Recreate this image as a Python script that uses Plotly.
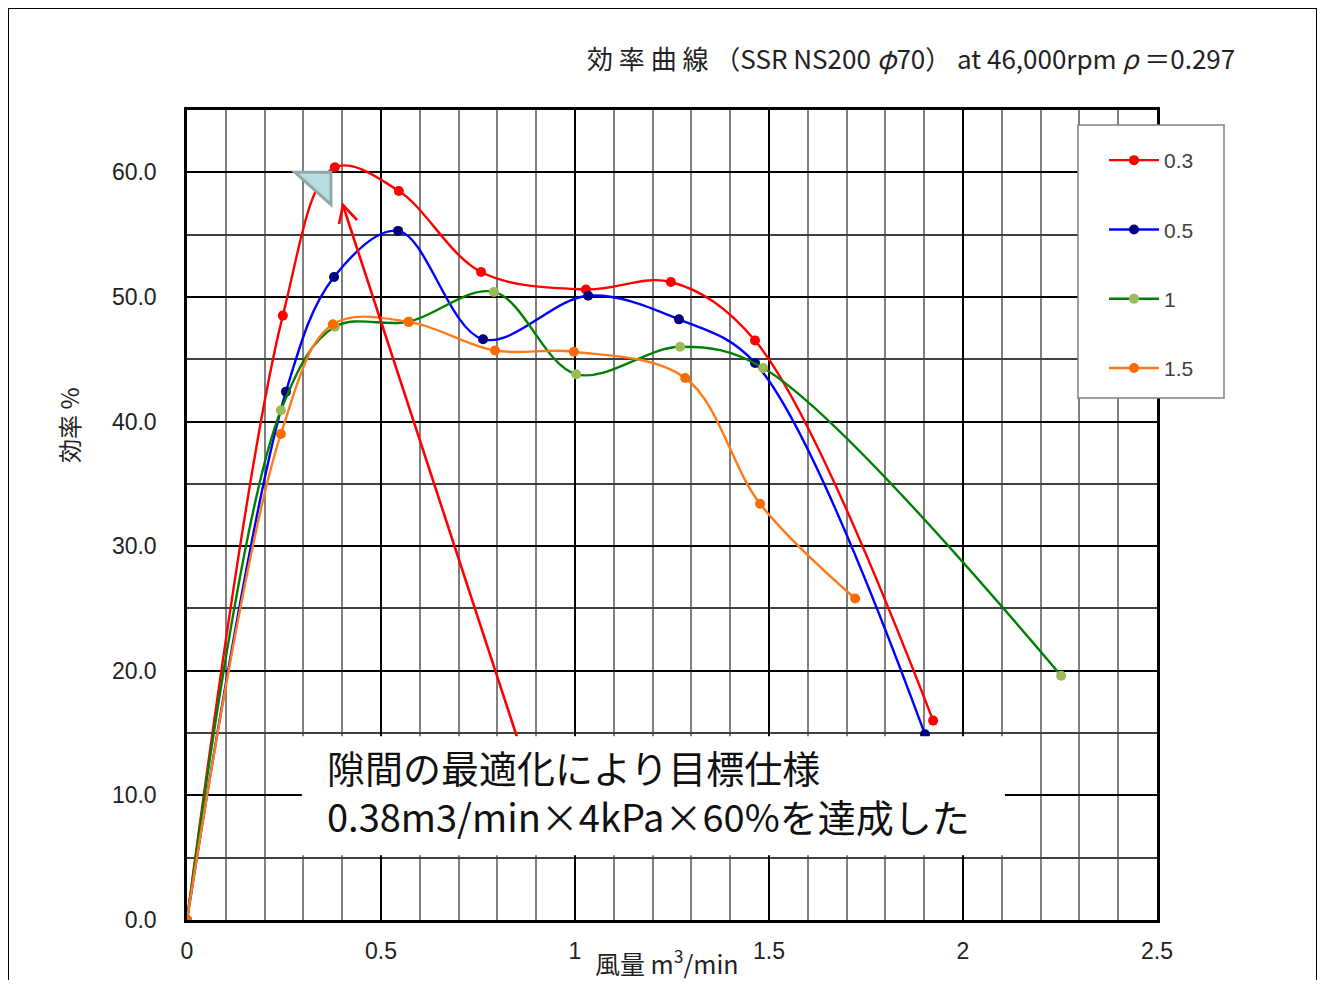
import plotly.graph_objects as go

# ---- data ----
series_names = ["0.3", "0.5", "1", "1.5"]
x_03 = [0, 0.247, 0.381, 0.546, 0.758, 1.028, 1.247, 1.464, 1.923]
y_03 = [0, 48.5, 60.4, 58.5, 52.0, 50.6, 51.2, 46.5, 16.0]
x_05 = [0, 0.255, 0.379, 0.544, 0.763, 1.034, 1.268, 1.464, 1.902]
y_05 = [0, 42.4, 51.6, 55.3, 46.6, 50.1, 48.2, 44.7, 14.9]
x_10 = [0, 0.242, 0.381, 0.570, 0.791, 1.003, 1.271, 1.485, 2.253]
y_10 = [0, 40.9, 47.6, 48.0, 50.4, 43.8, 46.0, 44.3, 19.6]
x_15 = [0, 0.242, 0.376, 0.572, 0.794, 0.997, 1.284, 1.477, 1.722]
y_15 = [0, 39.0, 47.8, 48.0, 45.7, 45.6, 43.5, 33.4, 25.8]

x_ticks = [0, 0.5, 1, 1.5, 2, 2.5]
x_ticktext = ["0", "0.5", "1", "1.5", "2", "2.5"]
y_ticks = [0, 10, 20, 30, 40, 50, 60]
y_ticktext = ["0.0", "10.0", "20.0", "30.0", "40.0", "50.0", "60.0"]

title_text = "効 率 曲 線 （SSR NS200 <i>φ</i>70） at 46,000rpm <i>ρ</i> ＝0.297"
note_text = "隙間の最適化により目標仕様<br>0.38m3/min×4kPa×60%を達成した"

line_colors = ["#FF0000", "#0000FF", "#008000", "#FF7A1A"]
marker_colors = ["#FF0000", "#000080", "#9BBB59", "#FF6A00"]
xs = [x_03, x_05, x_10, x_15]
ys = [y_03, y_05, y_10, y_15]

FONT = "Noto Sans CJK JP"


def px_x(p):
    return (p - 187) / 388.0


def px_y(p):
    return (920 - p) / 12.4615


fig = go.Figure()
for i, name in enumerate(series_names):
    fig.add_trace(go.Scatter(
        x=xs[i], y=ys[i], name=name, mode="lines+markers",
        legendgroup=name,
        line=dict(color=line_colors[i], width=2.4, shape="spline", smoothing=1.0),
        marker=dict(color=marker_colors[i], size=10),
    ))

fig.update_layout(
    width=1309, height=972,
    margin=dict(l=179, r=160, t=102, b=60),
    paper_bgcolor="white", plot_bgcolor="white",
    font=dict(family=FONT, color="#222222"),
    showlegend=True,
    legend=dict(
        x=(1104 - 187) / 970, y=(920 - 140) / 810, xanchor="left", yanchor="top",
        bgcolor="rgba(0,0,0,0)", borderwidth=0,
        font=dict(family="Liberation Sans", size=21, color="#404040"),
        tracegroupgap=39, itemwidth=50,
    ),
    xaxis=dict(
        range=[0, 2.5], tickvals=x_ticks, ticktext=x_ticktext,
        showgrid=True, gridcolor="#000000", gridwidth=2,
        minor=dict(dtick=0.1, showgrid=True, gridcolor="#7F7F7F", gridwidth=2),
        showline=True, linecolor="#000000", linewidth=2.5, mirror=True,
        ticks="", ticklabelstandoff=9,
        tickfont=dict(family="Liberation Sans Narrow, Liberation Sans", size=23, color="#222222"),
        zeroline=False,
    ),
    yaxis=dict(
        range=[0, 65], tickvals=y_ticks, ticktext=y_ticktext,
        showgrid=True, gridcolor="#000000", gridwidth=2,
        minor=dict(dtick=5, showgrid=True, gridcolor="#3F3F3F", gridwidth=2),
        showline=True, linecolor="#000000", linewidth=2.5, mirror=True,
        ticks="", ticklabelstandoff=23,
        tickfont=dict(family="Liberation Sans", size=23, color="#222222"),
        zeroline=False,
    ),
)

# outer frame
fig.add_shape(type="rect", xref="paper", yref="paper",
              x0=(8 - 187) / 970, x1=(1317 - 187) / 970,
              y0=(920 - 1000) / 810, y1=(920 - 8) / 810,
              line=dict(color="#000000", width=2), layer="below")

# legend box
fig.add_shape(type="rect", xref="paper", yref="paper",
              x0=(1078 - 187) / 970, x1=(1224 - 187) / 970,
              y0=(920 - 398) / 810, y1=(920 - 125) / 810,
              fillcolor="white", line=dict(color="#808080", width=1.5), layer="above")

# triangle marker
fig.add_shape(type="path", xref="x", yref="y",
              path="M 0.278,60 L 0.371,60 L 0.371,57.4 Z",
              fillcolor="#B7DDE0", line=dict(color="#8FA8A9", width=3), layer="above")

# red arrow (shaft + open chevron head)
fig.add_shape(type="line", xref="x", yref="y",
              x0=px_x(517), y0=px_y(737), x1=px_x(343.5), y1=px_y(207),
              line=dict(color="#FF0000", width=2.6), layer="above")
fig.add_shape(type="path", xref="x", yref="y",
              path=(f"M {px_x(357):.4f},{px_y(220):.3f} L {px_x(343):.4f},{px_y(205):.3f} "
                    f"L {px_x(339):.4f},{px_y(224):.3f}"),
              line=dict(color="#FF0000", width=2.6), layer="above")

# white text box
fig.add_shape(type="rect", xref="x", yref="y",
              x0=0.296, x1=2.108, y0=5.2, y1=14.75,
              fillcolor="white", line=dict(width=0), layer="above")

# note text
fig.add_annotation(x=0.355, y=10.35, xref="x", yref="y", xanchor="left", yanchor="middle",
                   text=note_text, showarrow=False, align="left",
                   font=dict(family=FONT, size=38, color="#111111"))

# title
fig.add_annotation(x=(1237 - 187) / 970, y=(920 - 57) / 810, xref="paper", yref="paper",
                   xanchor="right", yanchor="middle", showarrow=False,
                   text=title_text, font=dict(family=FONT, size=26, color="#222222"))

# axis titles
fig.add_annotation(x=(667 - 187) / 970, y=(920 - 962) / 810, xref="paper", yref="paper",
                   xanchor="center", yanchor="middle", showarrow=False,
                   text="風量 m<sup>3</sup>/min", font=dict(family=FONT, size=25, color="#222222"))
fig.add_annotation(x=(68 - 187) / 970, y=(920 - 426) / 810, xref="paper", yref="paper",
                   xanchor="center", yanchor="middle", showarrow=False, textangle=-90,
                   text="効率 %", font=dict(family=FONT, size=24, color="#222222"))

fig.write_html("out.html")
